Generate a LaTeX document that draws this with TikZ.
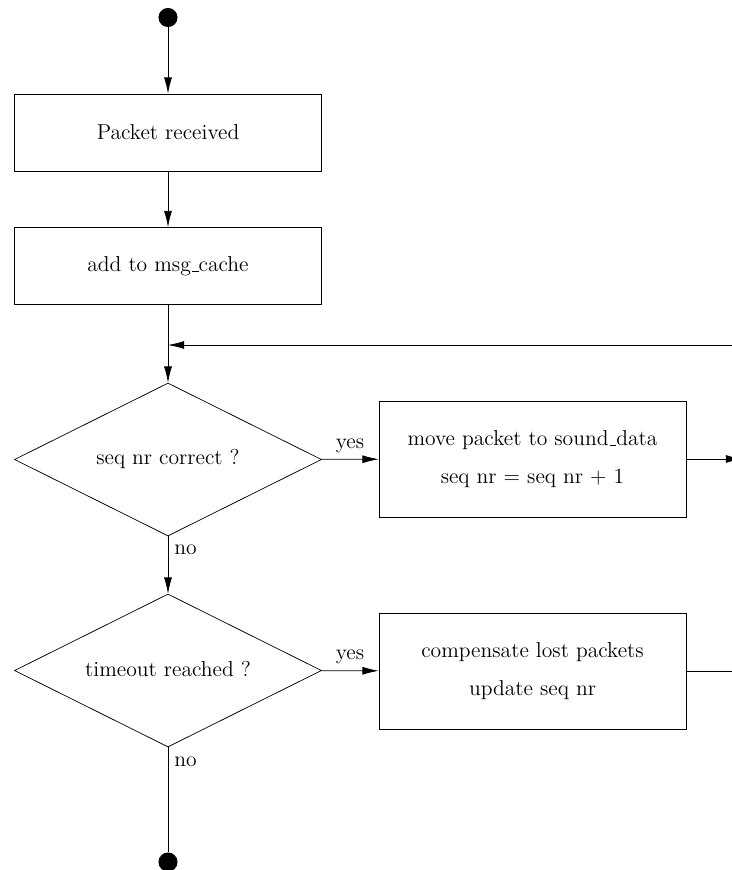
\documentclass[tikz,border=0pt]{standalone}
\usetikzlibrary{shapes.geometric,arrows.meta}
% short low rule for underscores in identifiers
\newcommand\lowbar{\leavevmode\kern.06em\vbox{\hrule width.3em}}
\begin{document}
\begin{tikzpicture}[x=0.5556pt,y=-0.5556pt,
  every node/.style={font=\fontsize{12}{14.4}\selectfont},
  box/.style={draw, minimum width=170.6pt, minimum height=42.8pt, inner sep=0pt},
  tallbox/.style={box, minimum height=64.4pt, align=center},
  decision/.style={draw, diamond, aspect=2, minimum width=170.6pt, minimum height=85pt, inner sep=0pt},
  dot/.style={circle, fill, minimum size=10.6pt, inner sep=0pt},
  flow/.style={-{Latex[length=9pt,width=4.4pt]}}]
\clip (0,0) rectangle (732,870);

% states and actions
\node[dot] (start) at (168,17.5) {};
\node[box] (recv) at (168,132.5) {Packet received};
\node[box] (cache) at (168,266) {add to msg\lowbar cache};
\node[decision] (seqok) at (168,459.5) {\raisebox{2.5pt}{seq nr correct ?}};
\node[tallbox] (move) at (532.5,459) {move packet to sound\lowbar data\\[6.5pt]seq nr = seq nr + 1};
\node[decision] (timeout) at (168,670.5) {\raisebox{2pt}{timeout reached ?}};
\node[tallbox] (lost) at (532.5,671) {compensate lost packets\\[6.5pt]update seq nr};
\node[dot] (stop) at (168,862) {};

% loose ends of the loop back
\coordinate (merge) at (168,345);
\coordinate (back) at (760,345);
\coordinate (outA) at (742,459);
\coordinate (outB) at (760,671);

% connectors
\draw[flow] (start) -- (recv);
\draw[flow] (recv) -- (cache);
\draw[flow] (cache) -- (seqok);
\draw[flow] (back) -- (merge);
\draw[flow] (seqok) -- node[above] {yes} (move);
\draw[flow] (move.east) -- (outA);
\draw[flow] (seqok) -- node[pos=0.24, right] {no} (timeout);
\draw[flow] (timeout) -- node[above] {yes} (lost);
\draw (lost.east) -- (outB);
\draw (timeout) -- node[pos=0.14, right] {no} (stop);
\end{tikzpicture}
\end{document}
